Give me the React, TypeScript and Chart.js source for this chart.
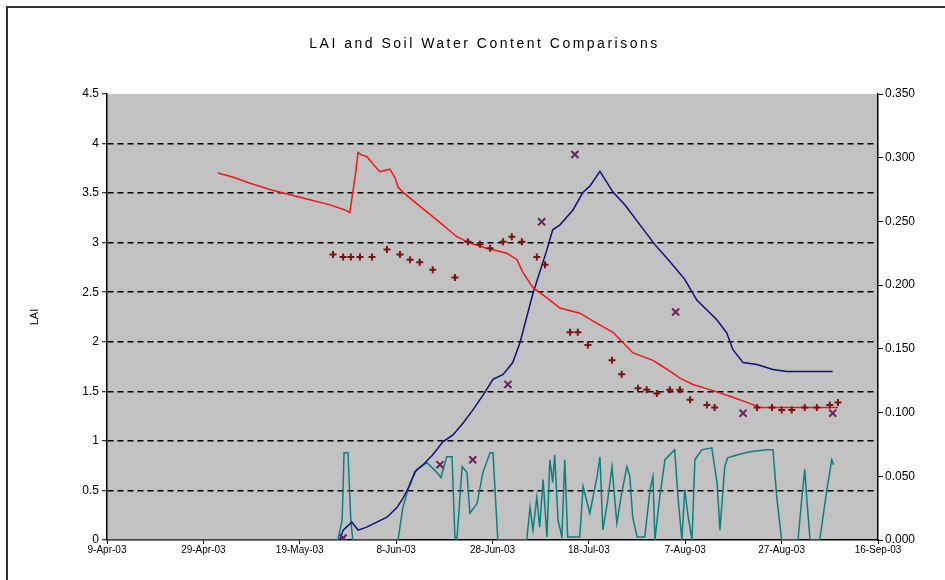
import React, { useEffect, useRef } from "react";
import { Chart, registerables } from "chart.js";

Chart.register(...registerables);

const TITLE = "LAI and Soil Water Content Comparisons";
const LEFT_AXIS_TITLE = "LAI";

// x axis: days since 9-Apr-03, tick every 20 days
const xTickLabels = [
  "9-Apr-03",
  "29-Apr-03",
  "19-May-03",
  "8-Jun-03",
  "28-Jun-03",
  "18-Jul-03",
  "7-Aug-03",
  "27-Aug-03",
  "16-Sep-03",
];

// Soil water content (modelled) - red line, right axis
const swcLineDays = [23.0, 25.9, 29.7, 33.8, 38.0, 42.1, 46.3, 49.4, 50.4, 51.7, 52.1, 52.9, 53.9, 55.2, 56.6, 58.7, 59.8, 60.4, 61.4, 64.9, 68.5, 72.6, 75.3, 78.8, 83.0, 85.1, 86.3, 88.4, 91.3, 94.0, 98.1, 101.7, 105.0, 109.1, 113.3, 116.2, 118.9, 121.6, 125.1, 129.9, 132.8, 135.5, 140.2, 143.8, 150.6, 151.7];
const swcLineValues = [0.288, 0.285, 0.280, 0.275, 0.271, 0.267, 0.263, 0.259, 0.257, 0.291, 0.304, 0.302, 0.301, 0.295, 0.289, 0.291, 0.284, 0.277, 0.273, 0.262, 0.251, 0.238, 0.233, 0.229, 0.225, 0.220, 0.210, 0.198, 0.190, 0.182, 0.178, 0.170, 0.163, 0.147, 0.141, 0.134, 0.127, 0.122, 0.118, 0.112, 0.108, 0.104, 0.104, 0.104, 0.104, 0.104];

// Soil water content (measured) - plus markers, right axis
const swcPointDays = [46.9, 49.0, 50.6, 52.5, 55.0, 58.1, 60.8, 62.9, 64.9, 67.6, 72.2, 74.9, 77.4, 79.5, 82.2, 84.0, 86.1, 89.2, 90.9, 96.1, 97.7, 99.8, 104.8, 106.8, 110.2, 112.0, 114.1, 116.8, 118.9, 121.0, 124.5, 126.1, 134.9, 138.0, 140.0, 142.1, 144.8, 147.3, 150.0, 151.7];
const swcPointValues = [0.224, 0.222, 0.222, 0.222, 0.222, 0.228, 0.224, 0.220, 0.218, 0.212, 0.206, 0.234, 0.232, 0.229, 0.234, 0.238, 0.234, 0.222, 0.216, 0.163, 0.163, 0.153, 0.141, 0.130, 0.119, 0.118, 0.115, 0.118, 0.118, 0.110, 0.106, 0.104, 0.104, 0.104, 0.102, 0.102, 0.104, 0.104, 0.106, 0.108];

// LAI (modelled) - blue line, left axis
const laiLineDays = [48.3, 49.0, 50.8, 52.1, 53.9, 56.0, 58.1, 60.2, 61.4, 62.9, 63.9, 65.6, 67.6, 69.7, 71.8, 73.9, 75.9, 78.0, 80.1, 82.2, 84.2, 85.7, 88.4, 91.3, 92.5, 94.0, 96.7, 98.8, 100.2, 102.3, 105.0, 107.5, 110.6, 113.7, 116.8, 119.9, 122.4, 126.6, 128.6, 129.9, 132.0, 134.9, 138.2, 141.1, 150.6];
const laiLineValues = [0, 0.10, 0.18, 0.10, 0.13, 0.18, 0.23, 0.33, 0.42, 0.56, 0.69, 0.76, 0.86, 0.99, 1.06, 1.18, 1.31, 1.46, 1.62, 1.67, 1.79, 1.99, 2.49, 2.93, 3.13, 3.18, 3.33, 3.51, 3.57, 3.72, 3.51, 3.38, 3.18, 2.98, 2.81, 2.63, 2.42, 2.22, 2.09, 1.92, 1.79, 1.77, 1.72, 1.70, 1.70];

// LAI (measured) - x markers, left axis
const laiPointDays = [49.0, 69.1, 75.9, 83.2, 90.2, 97.1, 118.0, 132.0, 150.6];
const laiPointValues = [0.02, 0.76, 0.81, 1.57, 3.21, 3.89, 2.30, 1.28, 1.28];

// Teal series, left axis
const tealDays = [0, 47.9, 48.8, 49.2, 50.0, 50.6, 51.0, 60.4, 61.4, 62.9, 64.3, 66.4, 68.5, 69.3, 70.5, 71.6, 72.2, 72.6, 73.7, 74.7, 75.3, 76.8, 78.0, 79.5, 80.1, 81.1, 87.1, 87.8, 88.4, 89.2, 89.8, 90.5, 91.3, 91.9, 92.5, 92.9, 93.6, 94.4, 95.0, 95.6, 98.1, 98.8, 100.2, 101.7, 102.3, 102.9, 103.9, 104.8, 105.8, 106.8, 107.9, 108.5, 109.1, 110.0, 111.6, 112.7, 113.3, 113.7, 114.7, 115.8, 117.8, 118.5, 119.3, 119.9, 120.5, 121.4, 122.0, 123.4, 125.5, 126.6, 127.2, 128.2, 128.8, 130.9, 133.4, 136.9, 138.2, 139.0, 140.0, 143.4, 144.2, 144.8, 145.2, 145.9, 147.9, 149.4, 150.4, 150.8];
const tealValues = [0, 0, 0.20, 0.88, 0.88, 0.20, 0, 0, 0.33, 0.58, 0.71, 0.78, 0.68, 0.63, 0.84, 0.84, 0.03, 0, 0.74, 0.68, 0.27, 0.37, 0.68, 0.88, 0.88, 0, 0, 0.33, 0.10, 0.43, 0.13, 0.61, 0.03, 0.81, 0.58, 0.86, 0.20, 0.03, 0.81, 0.03, 0.03, 0.54, 0.27, 0.64, 0.84, 0.10, 0.40, 0.74, 0.17, 0.47, 0.74, 0.64, 0.23, 0.03, 0.03, 0.51, 0.64, 0, 0.43, 0.81, 0.91, 0.43, 0, 0.51, 0.27, 0, 0.81, 0.91, 0.93, 0.58, 0.10, 0.74, 0.83, 0.86, 0.89, 0.91, 0.91, 0.43, 0, 0, 0.43, 0.71, 0.43, 0, 0, 0.51, 0.81, 0.76];

const zip = (xs: number[], ys: number[]) => xs.map((x, i) => ({ x, y: ys[i] }));

const FONT = '"Liberation Sans", Arial, sans-serif';

export default function App() {
  const ref = useRef<HTMLCanvasElement>(null);

  useEffect(() => {
    const canvas = ref.current;
    if (!canvas) return;

    const plotBg = {
      id: "plotBg",
      beforeDraw(chart: any) {
        const { ctx, chartArea: a } = chart;
        ctx.save();
        ctx.fillStyle = "#c2c2c2";
        ctx.fillRect(a.left, a.top, a.right - a.left, a.bottom - a.top);
        ctx.restore();
      },
    };

    const chart = new Chart(canvas, {
      type: "scatter",
      data: {
        datasets: [
          {
            label: "LAI measured",
            data: zip(laiPointDays, laiPointValues),
            yAxisID: "y",
            showLine: false,
            pointStyle: "crossRot",
            pointRadius: 5,
            borderColor: "#6e1f5e",
            backgroundColor: "#6e1f5e",
            borderWidth: 2,
          },
          {
            label: "Soil water measured",
            data: zip(swcPointDays, swcPointValues),
            yAxisID: "y1",
            showLine: false,
            pointStyle: "cross",
            pointRadius: 3.5,
            borderColor: "#7a1414",
            backgroundColor: "#7a1414",
            borderWidth: 2,
          },
          {
            label: "Soil water modelled",
            data: zip(swcLineDays, swcLineValues),
            yAxisID: "y1",
            showLine: true,
            pointRadius: 0,
            borderColor: "#f01818",
            borderWidth: 1.5,
            tension: 0,
          },
          {
            label: "LAI modelled",
            data: zip(laiLineDays, laiLineValues),
            yAxisID: "y",
            showLine: true,
            pointRadius: 0,
            borderColor: "#10107a",
            borderWidth: 1.5,
            tension: 0,
          },
          {
            label: "Series",
            data: zip(tealDays, tealValues),
            yAxisID: "y",
            showLine: true,
            pointRadius: 0,
            borderColor: "#0c8080",
            borderWidth: 1.5,
            tension: 0,
          },
        ],
      },
      options: {
        responsive: false,
        animation: false,
        layout: { padding: 0 },
        plugins: {
          legend: { display: false },
          tooltip: { enabled: false },
          title: {
            display: true,
            text: TITLE,
            color: "#000",
            font: { family: FONT, size: 14, weight: "normal" },
            padding: { top: 35.6, bottom: 41.6 },
          },
        },
        scales: {
          x: {
            type: "linear",
            position: "bottom",
            min: 0,
            max: 160,
            afterFit(s: any) {
              s.height = 40;
            },
            ticks: {
              stepSize: 20,
              autoSkip: false,
              maxRotation: 0,
              padding: 0,
              color: "#000",
              font: { family: FONT, size: 10 },
              callback: (v: any) => xTickLabels[Math.round(Number(v) / 20)] ?? "",
            },
            grid: { drawOnChartArea: false, tickLength: 4, tickColor: "#000", tickWidth: 1 },
            border: { color: "#000", width: 1.5 },
          },
          y: {
            position: "left",
            min: 0,
            max: 4.5,
            afterFit(s: any) {
              s.width = 107;
            },
            ticks: {
              stepSize: 0.5,
              padding: 3,
              color: "#000",
              font: { family: FONT, size: 12 },
              callback: (v: any) => String(Math.round(Number(v) * 10) / 10),
            },
            grid: {
              color: (c: any) =>
                c.tick && (c.tick.value === 0 || c.tick.value === 4.5) ? "rgba(0,0,0,0)" : "#000",
              lineWidth: 1.5,
              tickColor: "#000",
              tickLength: 5,
              tickWidth: 1,
            },
            border: { color: "#000", width: 1.5, dash: [6, 4] },
            title: {
              display: true,
              text: LEFT_AXIS_TITLE,
              color: "#000",
              font: { family: FONT, size: 11 },
              padding: { top: 28, bottom: 0 },
            },
          },
          y1: {
            position: "right",
            min: 0,
            max: 0.35,
            afterFit(s: any) {
              s.width = 67;
            },
            ticks: {
              stepSize: 0.05,
              padding: 2,
              color: "#000",
              font: { family: FONT, size: 12 },
              callback: (v: any) => Number(v).toFixed(3),
            },
            grid: { drawOnChartArea: false, tickColor: "#000", tickLength: 5, tickWidth: 1 },
            border: { color: "#000", width: 1.5 },
          },
        },
      } as any,
      plugins: [plotBg],
    });

    const tb = (chart as any).titleBlock;
    if (tb) {
      const orig = tb.draw.bind(tb);
      tb.draw = (...args: any[]) => {
        const c: any = chart.ctx;
        c.save();
        c.letterSpacing = "2.5px";
        c.translate(12, 0);
        orig(...args);
        c.restore();
      };
      chart.draw();
    }

    return () => chart.destroy();
  }, []);

  return (
    <div
      style={{
        position: "fixed",
        left: 0,
        top: 0,
        width: 945,
        height: 580,
        overflow: "hidden",
        background: "#fff",
      }}
    >
      <div
        style={{
          position: "absolute",
          left: 6,
          top: 6,
          width: 960,
          height: 600,
          borderTop: "2px solid #333",
          borderLeft: "2px solid #333",
        }}
      />
      <canvas
        ref={ref}
        width={945}
        height={580}
        style={{ position: "absolute", left: 0, top: 0, display: "block" }}
      />
    </div>
  );
}
